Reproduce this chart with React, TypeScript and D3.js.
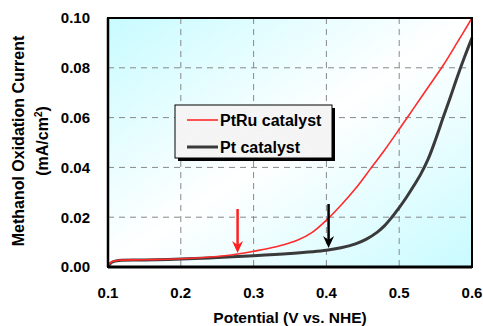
import React from "react";
import * as d3 from "d3";

const xTicks = [0.1, 0.2, 0.3, 0.4, 0.5, 0.6];
const yTicks = [0.0, 0.02, 0.04, 0.06, 0.08, 0.1];

const ptruV = [0.1, 0.102, 0.106, 0.115, 0.15, 0.2, 0.25, 0.28, 0.3, 0.32, 0.34, 0.36, 0.38, 0.4, 0.42, 0.44, 0.46, 0.48, 0.5, 0.52, 0.54, 0.56, 0.58, 0.6];
const ptruI = [0.0, 0.0012, 0.0022, 0.0027, 0.0029, 0.0033, 0.0042, 0.0053, 0.0063, 0.0074, 0.0088, 0.0107, 0.0138, 0.0188, 0.0248, 0.0315, 0.0392, 0.047, 0.0553, 0.0638, 0.0723, 0.0808, 0.0903, 0.1];

const ptV = [0.1, 0.102, 0.106, 0.115, 0.15, 0.2, 0.25, 0.3, 0.35, 0.4, 0.42, 0.44, 0.455, 0.47, 0.48, 0.49, 0.5, 0.51, 0.52, 0.53, 0.54, 0.55, 0.56, 0.57, 0.58, 0.59, 0.6];
const ptI = [0.0, 0.001, 0.002, 0.0026, 0.0028, 0.0032, 0.0038, 0.0045, 0.0054, 0.0067, 0.0077, 0.0093, 0.0112, 0.014, 0.0166, 0.02, 0.0238, 0.028, 0.0326, 0.0375, 0.0435, 0.0512, 0.0597, 0.068, 0.0765, 0.0845, 0.092];

// arrows: potential, start value, tip value
const arrowV = [0.278, 0.403];
const arrowTop = [0.0233, 0.0253];
const arrowTip = [0.0056, 0.0076];
const arrowColors = ["#ff2020", "#000000"];

const seriesNames = ["PtRu catalyst", "Pt catalyst"];

const W = 483, H = 326;
const L = 108, R = 472, T = 18, B = 267;
const FONT = "'Liberation Sans', Arial, sans-serif";

export default function App() {
  const x = d3.scaleLinear().domain([0.1, 0.6]).range([L, R]);
  const y = d3.scaleLinear().domain([0, 0.1]).range([B, T]);
  const line = d3
    .line<[number, number]>()
    .x((d) => x(d[0]))
    .y((d) => y(d[1]))
    .curve(d3.curveCatmullRom.alpha(0.5));
  const red = line(ptruV.map((v, i) => [v, ptruI[i]]))!;
  const black = line(ptV.map((v, i) => [v, ptI[i]]))!;

  return (
    <svg width={W} height={H} style={{ position: "absolute", left: 0, top: 0 }}>
      <defs>
        <linearGradient id="bg" x1="0" y1="0" x2="1" y2="1">
          <stop offset="0" stopColor="#c8fbff" />
          <stop offset="0.5" stopColor="#ffffff" />
          <stop offset="1" stopColor="#c8fbff" />
        </linearGradient>
        <filter id="noise" x="0" y="0" width="100%" height="100%">
          <feTurbulence type="fractalNoise" baseFrequency="0.9" numOctaves="1" result="t" />
          <feColorMatrix type="saturate" values="0" />
          <feComponentTransfer>
            <feFuncR type="linear" slope="0.12" intercept="0.85" />
            <feFuncG type="linear" slope="0.12" intercept="0.85" />
            <feFuncB type="linear" slope="0.12" intercept="0.85" />
            <feFuncA type="linear" slope="0" intercept="1" />
          </feComponentTransfer>
        </filter>
        <clipPath id="clip">
          <rect x={L} y={T - 2} width={R - L + 2} height={B - T + 4} />
        </clipPath>
      </defs>
      <rect x={0} y={0} width={W} height={H} fill="#fff" />
      <rect x={L} y={T} width={R - L} height={B - T} fill="url(#bg)" />
      {xTicks.slice(1, -1).map((t) => (
        <line key={"gx" + t} x1={x(t)} x2={x(t)} y1={T} y2={B} stroke="#888" strokeWidth={1} strokeDasharray="6,5" />
      ))}
      {yTicks.slice(1, -1).map((t) => (
        <line key={"gy" + t} x1={L} x2={R} y1={y(t)} y2={y(t)} stroke="#888" strokeWidth={1} strokeDasharray="6,5" />
      ))}
      <g clipPath="url(#clip)">
        <path d={black} fill="none" stroke="#3a3a3a" strokeWidth={3} />
        <path d={red} fill="none" stroke="#ff2a2a" strokeWidth={1.6} />
      </g>
      {arrowV.map((v, i) => {
        const ax = x(v);
        const y0 = y(arrowTop[i]);
        const y1 = y(arrowTip[i]);
        return (
          <g key={"a" + i}>
            <line x1={ax} x2={ax} y1={y0} y2={y1 - 8} stroke={arrowColors[i]} strokeWidth={2.5} />
            <path d={`M${ax - 5.5},${y1 - 12} L${ax},${y1} L${ax + 5.5},${y1 - 12} L${ax},${y1 - 8} Z`} fill={arrowColors[i]} />
          </g>
        );
      })}
      <rect x={L} y={T} width={R - L} height={B - T} fill="none" stroke="#000" strokeWidth={2} />
      <line x1={L} x2={R} y1={B} y2={B} stroke="#000" strokeWidth={3} />
      <line x1={L} x2={L} y1={T} y2={B} stroke="#000" strokeWidth={2.5} />
      {yTicks.map((t) => (
        <text key={"yt" + t} x={90} y={y(t)} dy="0.36em" textAnchor="end" fontFamily={FONT} fontWeight="bold" fontSize={15}>
          {t.toFixed(2)}
        </text>
      ))}
      {xTicks.map((t) => (
        <text key={"xt" + t} x={x(t)} y={298} textAnchor="middle" fontFamily={FONT} fontWeight="bold" fontSize={15}>
          {t.toFixed(1)}
        </text>
      ))}
      <text x={290} y={323} textAnchor="middle" fontFamily={FONT} fontWeight="bold" fontSize={15.5}>
        Potential (V vs. NHE)
      </text>
      <g transform="translate(24,141) rotate(-90)">
        <text x={0} y={0} textAnchor="middle" fontFamily={FONT} fontWeight="bold" fontSize={16}>
          Methanol Oxidation Current
        </text>
        <text x={0} y={24} textAnchor="middle" fontFamily={FONT} fontWeight="bold" fontSize={16}>
          (mA/cm<tspan dy={-6} fontSize={10}>2</tspan><tspan dy={6}>)</tspan>
        </text>
      </g>
      <g>
        <rect x={178} y={108} width={157} height={53} fill="#000" />
        <rect x={175} y={105} width={157} height={53} fill="#e6e6e6" stroke="#000" strokeWidth={1} filter="url(#noise)" />
        <rect x={175} y={105} width={157} height={53} fill="none" stroke="#000" strokeWidth={1} />
        <line x1={187} x2={218} y1={120} y2={120} stroke="#ff2a2a" strokeWidth={1.6} />
        <line x1={187} x2={218} y1={147} y2={147} stroke="#3a3a3a" strokeWidth={3} />
        <text x={220} y={120} dy="0.36em" fontFamily={FONT} fontWeight="bold" fontSize={16}>{seriesNames[0]}</text>
        <text x={220} y={147} dy="0.36em" fontFamily={FONT} fontWeight="bold" fontSize={16}>{seriesNames[1]}</text>
      </g>
    </svg>
  );
}
